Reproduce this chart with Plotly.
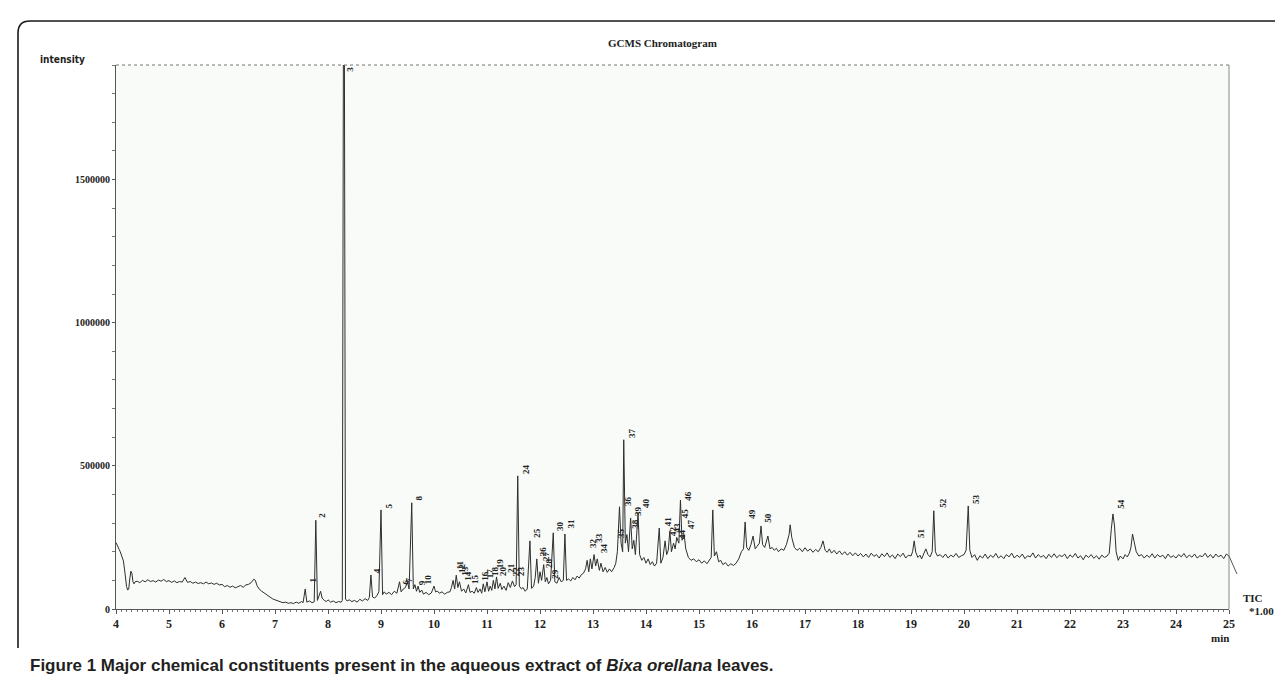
import plotly.graph_objects as go

# ---------------- data ----------------
time_min = [
    4.00, 4.02, 4.04, 4.06, 4.08, 4.10, 4.12, 4.14, 4.16, 4.18, 4.20, 4.22, 4.24, 4.26, 4.28, 4.30, 4.32, 4.34, 4.36,
    4.40, 4.45, 4.50, 4.55, 4.60, 4.65, 4.70, 4.75, 4.80, 4.85, 4.90, 4.95, 5.00, 5.05, 5.10, 5.15, 5.20, 5.25, 5.30,
    5.35, 5.40, 5.45, 5.50, 5.55, 5.60, 5.65, 5.70, 5.75, 5.80, 5.85, 5.90, 5.95, 6.00, 6.05, 6.10, 6.15, 6.20, 6.25,
    6.30, 6.35, 6.40, 6.45, 6.50, 6.55, 6.60, 6.63, 6.66, 6.70, 6.75, 6.80, 6.85, 6.90, 6.95, 7.00, 7.05, 7.10, 7.15,
    7.20, 7.25, 7.30, 7.35, 7.40, 7.45, 7.50, 7.53, 7.57, 7.60, 7.65, 7.70, 7.74, 7.77, 7.80, 7.83, 7.86, 7.89, 7.93,
    7.97, 8.00, 8.05, 8.10, 8.15, 8.20, 8.25, 8.27, 8.29, 8.31, 8.33, 8.36, 8.40, 8.45, 8.50, 8.55, 8.60, 8.65, 8.70,
    8.75, 8.78, 8.81, 8.84, 8.88, 8.92, 8.96, 9.00, 9.03, 9.06, 9.10, 9.15, 9.20, 9.25, 9.30, 9.35, 9.38, 9.42, 9.46,
    9.50, 9.53, 9.58, 9.61, 9.64, 9.67, 9.70, 9.73, 9.77, 9.80, 9.85, 9.90, 9.95, 10.00, 10.03, 10.07, 10.10, 10.15,
    10.20, 10.25, 10.30, 10.33, 10.36, 10.39, 10.42, 10.45, 10.48, 10.52, 10.56, 10.60, 10.65, 10.68, 10.72, 10.76,
    10.80, 10.83, 10.87, 10.90, 10.93, 10.96, 11.00, 11.03, 11.06, 11.09, 11.12, 11.15, 11.18, 11.21, 11.25, 11.28,
    11.32, 11.36, 11.40, 11.44, 11.48, 11.52, 11.55, 11.58, 11.61, 11.65, 11.68, 11.72, 11.76, 11.81, 11.84, 11.88,
    11.91, 11.94, 11.97, 12.00, 12.03, 12.07, 12.10, 12.13, 12.16, 12.20, 12.25, 12.28, 12.32, 12.36, 12.40, 12.44,
    12.47, 12.50, 12.54, 12.58, 12.62, 12.66, 12.70, 12.74, 12.78, 12.82, 12.86, 12.89, 12.92, 12.95, 12.98, 13.02,
    13.05, 13.08, 13.12, 13.15, 13.19, 13.23, 13.27, 13.31, 13.35, 13.40, 13.43, 13.46, 13.50, 13.53, 13.56, 13.58,
    13.61, 13.64, 13.67, 13.71, 13.74, 13.77, 13.80, 13.85, 13.88, 13.92, 13.96, 14.00, 14.04, 14.08, 14.12, 14.16,
    14.20, 14.25, 14.28, 14.32, 14.36, 14.39, 14.42, 14.45, 14.48, 14.52, 14.55, 14.58, 14.62, 14.65, 14.68, 14.72,
    14.75, 14.80, 14.85, 14.90, 14.95, 15.00, 15.05, 15.10, 15.15, 15.20, 15.23, 15.26, 15.29, 15.33, 15.37, 15.41,
    15.45, 15.50, 15.55, 15.60, 15.65, 15.70, 15.75, 15.80, 15.84, 15.87, 15.90, 15.94, 15.98, 16.02, 16.06, 16.10,
    16.14, 16.17, 16.20, 16.24, 16.30, 16.34, 16.38, 16.42, 16.46, 16.50, 16.55, 16.60, 16.65, 16.70, 16.72, 16.75,
    16.80, 16.85, 16.90, 16.95, 17.00, 17.05, 17.10, 17.15, 17.20, 17.25, 17.30, 17.34, 17.38, 17.42, 17.46, 17.50,
    17.55, 17.60, 17.65, 17.70, 17.75, 17.80, 17.85, 17.90, 17.95, 18.00, 18.05, 18.10, 18.15, 18.20, 18.25, 18.30,
    18.35, 18.40, 18.45, 18.50, 18.55, 18.60, 18.65, 18.70, 18.75, 18.80, 18.85, 18.90, 18.95, 19.00, 19.03, 19.06,
    19.09, 19.13, 19.17, 19.20, 19.24, 19.28, 19.32, 19.36, 19.40, 19.43, 19.46, 19.50, 19.55, 19.60, 19.65, 19.70,
    19.75, 19.80, 19.85, 19.90, 19.95, 20.00, 20.04, 20.08, 20.11, 20.15, 20.20, 20.25, 20.30, 20.35, 20.40, 20.45,
    20.50, 20.55, 20.60, 20.65, 20.70, 20.75, 20.80, 20.85, 20.90, 20.95, 21.00, 21.05, 21.10, 21.15, 21.20, 21.25,
    21.30, 21.35, 21.40, 21.45, 21.50, 21.55, 21.60, 21.65, 21.70, 21.75, 21.80, 21.85, 21.90, 21.95, 22.00, 22.05,
    22.10, 22.15, 22.20, 22.25, 22.30, 22.35, 22.40, 22.45, 22.50, 22.55, 22.60, 22.65, 22.70, 22.74, 22.78, 22.81,
    22.84, 22.87, 22.91, 22.95, 23.00, 23.04, 23.08, 23.12, 23.15, 23.18, 23.21, 23.25, 23.30, 23.35, 23.40, 23.45,
    23.50, 23.55, 23.60, 23.65, 23.70, 23.75, 23.80, 23.85, 23.90, 23.95, 24.00, 24.05, 24.10, 24.15, 24.20, 24.25,
    24.30, 24.35, 24.40, 24.45, 24.50, 24.55, 24.60, 24.65, 24.70, 24.75, 24.80, 24.85, 24.90, 24.95, 25.00,
]

# intensity in thousands of counts
intensity_k = [
    232, 222, 215, 208, 200, 190, 178, 168, 140, 100, 78, 66, 70, 105, 132, 125, 95, 88, 95,
    97, 92, 100, 95, 102, 96, 99, 94, 101, 97, 103, 96, 99, 93, 98, 92, 96, 94, 110,
    93, 96, 90, 94, 89, 92, 88, 94, 88, 91, 86, 90, 84, 86, 78, 82, 76, 80, 74,
    78, 82, 76, 84, 86, 92, 104, 100, 82, 70, 62, 55, 50, 42, 36, 32, 28, 26, 22,
    24, 20, 22, 19, 24, 20, 26, 22, 70, 24, 28, 22, 25, 310, 30, 45, 62, 38, 30,
    26, 32, 24, 28, 22, 26, 24, 30, 1900, 1900, 35, 28, 32, 26, 30, 24, 34, 28, 36,
    30, 40, 119, 42, 38, 46, 60, 346, 50, 60, 52, 58, 50, 62, 55, 95, 60, 70, 75,
    95, 70, 371, 70, 85, 62, 80, 58, 66, 52, 58, 50, 56, 80, 60, 62, 55, 60,
    52, 58, 60, 75, 100, 70, 118, 75, 95, 62, 70, 56, 85, 58, 62, 55,
    75, 58, 70, 55, 88, 60, 95, 62, 80, 65, 100, 70, 112, 72, 90, 68,
    80, 65, 92, 75, 98, 78, 85, 465, 80, 70, 75, 62, 70, 238, 72, 80,
    110, 175, 90, 130, 100, 155, 95, 110, 88, 100, 266, 95, 90, 110, 95, 100,
    262, 100, 105, 98, 110, 102, 115, 108, 120, 125, 140, 170, 130, 175, 140, 190,
    150, 175, 135, 160, 130, 145, 128, 140, 130, 145, 160, 200, 357, 230, 200, 591,
    230, 260, 200, 318, 210, 240, 190, 336, 190, 170, 180, 160, 175, 155, 165, 150,
    160, 283, 160, 180, 238, 190, 205, 273, 200, 230, 210, 250, 230, 380, 240, 260,
    210, 180, 170, 175, 165, 172, 160, 168, 158, 175, 180, 346, 185, 200, 165, 170,
    155, 162, 150, 158, 152, 160, 175, 200, 210, 304, 215, 205, 225, 255, 210, 220,
    230, 290, 225, 215, 255, 210, 215, 205, 212, 200, 210, 205, 225, 260, 294, 250,
    215, 205, 212, 200, 214, 202, 210, 198, 208, 200, 215, 238, 205, 198, 210, 195,
    205, 192, 203, 190, 200, 188, 198, 186, 196, 185, 194, 182, 192, 180, 195, 184,
    190, 178, 193, 183, 196, 180, 189, 176, 192, 183, 195, 178, 188, 185, 200, 238,
    198, 180, 188, 175, 195, 210, 190, 182, 200, 343, 200, 185, 190, 180, 192, 178,
    188, 182, 194, 180, 186, 190, 205, 360, 205, 180, 190, 170, 186, 178, 192, 176,
    188, 180, 194, 178, 186, 176, 190, 182, 195, 178, 188, 180, 192, 176, 186, 182,
    196, 178, 190, 181, 187, 176, 191, 180, 193, 179, 188, 183, 192, 176, 189, 181,
    194, 178, 186, 172, 188, 180, 190, 177, 186, 174, 188, 180, 185, 195, 280, 332,
    290, 200, 170, 185, 175, 190, 182, 195, 215, 262, 235, 200, 185, 190, 178, 188,
    180, 193, 178, 190, 182, 188, 176, 192, 180, 186, 178, 190, 182, 194, 179, 188,
    181, 192, 178, 186, 183, 195, 180, 190, 178, 192, 182, 188, 176, 192, 185,
]

# peak labels: number, label centre (min), label base (thousands)
peak_num = list(range(1, 55))
label_t = [7.72, 7.89, 8.40, 8.94, 9.15, 9.47, 9.53, 9.72, 9.79, 9.89,
           10.49, 10.53, 10.58, 10.64, 10.77, 10.96, 11.06, 11.15, 11.25, 11.30,
           11.45, 11.55, 11.64, 11.74, 11.94, 12.06, 12.11, 12.17, 12.28, 12.38,
           12.58, 13.00, 13.11, 13.21, 13.53, 13.66, 13.74, 13.79, 13.85, 14.00,
           14.42, 14.51, 14.58, 14.68, 14.74, 14.79, 14.85, 15.42, 16.00, 16.30,
           19.19, 19.60, 20.23, 22.96]
label_k = [84, 311, 1800, 119, 346, 80, 84, 371, 77, 80,
           133, 119, 108, 91, 80, 91, 101, 108, 136, 108,
           119, 108, 108, 465, 241, 178, 160, 136, 98, 266,
           273, 206, 224, 189, 241, 353, 591, 273, 318, 346,
           283, 248, 259, 238, 311, 371, 273, 346, 308, 294,
           241, 346, 360, 343]

y_tick_vals = [0, 500000, 1000000, 1500000]
y_tick_text = ["0", "500000", "1000000", "1500000"]
x_tick_vals = list(range(4, 26))
x_tick_text = [str(v) for v in x_tick_vals]

intensity = [v * 1000 for v in intensity_k]
label_y = [v * 1000 for v in label_k]

# ---------------- layout helpers ----------------
W, H = 1283, 676
L, R, T, B = 108, 1221, 57, 601


def px(xp):
    return (xp - L) / (R - L)


def py(yp):
    return (B - yp) / (B - T)


SERIF = "Liberation Serif"
INK = "#222222"

fig = go.Figure()
fig.add_trace(go.Scatter(
    x=time_min, y=intensity, mode="lines",
    line=dict(color="#2e2e2e", width=1),
    hoverinfo="x+y", showlegend=False,
))

annotations = []
for n, t, yv in zip(peak_num, label_t, label_y):
    if n == 3:
        annotations.append(dict(x=t, y=1900000, xref="x", yref="y", text=str(n),
                                showarrow=False, textangle=-90, xanchor="center",
                                yanchor="top", font=dict(family=SERIF, size=9, color=INK, weight="bold")))
    else:
        annotations.append(dict(x=t, y=yv, xref="x", yref="y", text=str(n),
                                showarrow=False, textangle=-90, xanchor="center",
                                yanchor="bottom", font=dict(family=SERIF, size=9, color=INK, weight="bold")))

annotations += [
    dict(x=px(654), y=py(35), xref="paper", yref="paper", text="GCMS Chromatogram",
         showarrow=False, xanchor="center", yanchor="middle",
         font=dict(family=SERIF, size=11, color=INK, weight="bold")),
    dict(x=px(30), y=py(51), xref="paper", yref="paper", text="intensity",
         showarrow=False, xanchor="left", yanchor="middle",
         font=dict(family="DejaVu Sans Condensed, DejaVu Sans", size=10, color=INK, weight="bold")),
    dict(x=px(1233), y=py(590), xref="paper", yref="paper", text="TIC",
         showarrow=False, xanchor="left", yanchor="middle",
         font=dict(family=SERIF, size=11, color=INK, weight="bold")),
    dict(x=px(1239), y=py(603), xref="paper", yref="paper", text="*1.00",
         showarrow=False, xanchor="left", yanchor="middle",
         font=dict(family=SERIF, size=11, color=INK, weight="bold")),
    dict(x=px(1212), y=py(630), xref="paper", yref="paper", text="min",
         showarrow=False, xanchor="center", yanchor="middle",
         font=dict(family=SERIF, size=11, color=INK, weight="bold")),
    dict(x=px(20), y=py(657), xref="paper", yref="paper",
         text="<b>Figure 1</b> <b>Major chemical constituents present in the aqueous extract of "
              "<i>Bixa orellana</i> leaves.</b>",
         showarrow=False, xanchor="left", yanchor="middle",
         font=dict(family="Liberation Sans", size=17, color="#231f20")),
]

frame_path = (f"M {px(1290)},{py(13)} L {px(22)},{py(13)} "
              f"Q {px(10)},{py(13)} {px(10)},{py(25)} L {px(10)},{py(640)}")

shapes = [
    dict(type="path", path=frame_path, xref="paper", yref="paper",
         line=dict(color="#1a1a1a", width=1.6)),
    # top dashed border of the chart box
    dict(type="line", xref="paper", yref="paper", x0=0, x1=1, y0=1, y1=1,
         line=dict(color="#777777", width=1, dash="dot")),
    # right border at 25 min
    dict(type="line", xref="paper", yref="paper", x0=1, x1=1, y0=0, y1=1,
         line=dict(color="#888888", width=1)),
    # TIC tail
    dict(type="line", xref="paper", yref="paper", x0=px(1221), x1=px(1229),
         y0=py(548), y1=py(566), line=dict(color="#555555", width=1)),
]

fig.update_layout(
    width=W, height=H,
    margin=dict(l=L, r=W - R, t=T, b=H - B, pad=0),
    paper_bgcolor="white",
    plot_bgcolor="#f8fbf8",
    annotations=annotations,
    shapes=shapes,
    xaxis=dict(
        range=[4, 25], tickmode="array", tickvals=x_tick_vals, ticktext=x_tick_text,
        showgrid=False, zeroline=False, showline=True, linecolor="#555555", linewidth=1,
        ticks="outside", ticklen=4, tickcolor="#555555",
        tickfont=dict(family=SERIF, size=12, color=INK, weight="bold"),
        minor=dict(dtick=0.1, ticks="outside", ticklen=2, tickcolor="#777777", showgrid=False),
    ),
    yaxis=dict(
        range=[0, 1900000], tickmode="array", tickvals=y_tick_vals, ticktext=y_tick_text,
        showgrid=False, zeroline=False, showline=True, linecolor="#555555", linewidth=1,
        ticks="outside", ticklen=3, tickcolor="#555555",
        tickfont=dict(family=SERIF, size=10, color=INK, weight="bold"),
        minor=dict(dtick=100000, ticks="outside", ticklen=3, tickcolor="#777777", showgrid=False),
    ),
)

fig.write_html("out.html")
